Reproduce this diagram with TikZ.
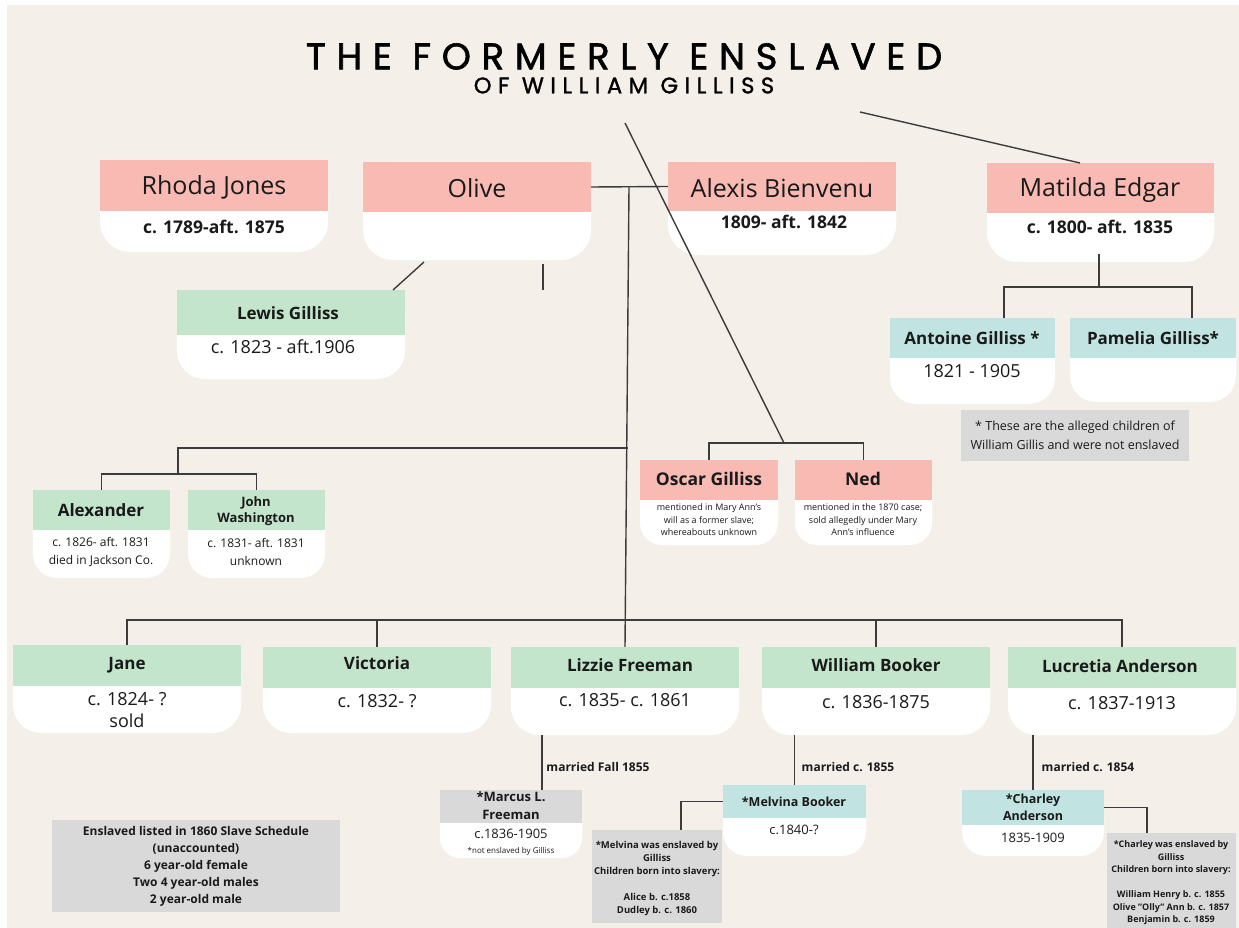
\documentclass[tikz,border=0pt]{standalone}
\usepackage{fontspec}
\setmainfont{Open Sans}
\newfontfamily\titlefont[LetterSpace=29, FakeBold=1.6]{Poppins}
\newfontfamily\subfont[LetterSpace=29, FakeBold=1.4]{Poppins}
\usetikzlibrary{fit}
\definecolor{bg}{HTML}{F4EFE9}
\definecolor{pinkh}{HTML}{F9BAB4}
\definecolor{greenh}{HTML}{C3E5CC}
\definecolor{tealh}{HTML}{C1E4E3}
\definecolor{grayn}{HTML}{D9D9D9}
\definecolor{ink}{HTML}{1A1A1A}
\definecolor{linec}{HTML}{3C3C3C}
\newcommand\pbox[8]{%
  \node[fit={(#2,#3) (#5,#6)}, inner sep=0pt, fill=white, rounded corners=#8] (#1b) {};
  \node[fit={(#2,#3) (#5,#4)}, inner sep=0pt, fill=#7] (#1) {};}
\newcommand\fs[2]{\fontsize{#1}{#2}\selectfont}
\begin{document}
\begin{tikzpicture}[x=1pt,y=-1pt,
  conn/.style={draw=linec, line width=1.4pt},
  note/.style={fill=grayn, inner sep=0pt},
  bigname/.style={text=ink, font=\fs{25}{30}},
  pname/.style={text=ink, font=\bfseries\fs{17}{20}},
  dates/.style={text=ink, font=\fs{18}{22}, align=center},
  bdates/.style={text=ink, font=\bfseries\fs{17.5}{22}},
  small/.style={text=ink, font=\fs{9}{12.5}, align=center},
  txt/.style={text=ink, align=center}]
\useasboundingbox (0,0) rectangle (1239,928);
\fill[white] (0,0) rectangle (1239,928);
\fill[bg] (7,5) rectangle (1239,928);

% title
\node[text=black, inner sep=0pt, anchor=north, align=center, font=\fs{22.5}{24}] (title) at (624,43)
  {{\titlefont\fs{37}{24}THE FORMERLY ENSLAVED}\\{\subfont\fs{22.5}{24}OF WILLIAM GILLISS}};

% boxes
\pbox{rhoda}{100}{160}{211}{328}{252}{pinkh}{30}
\pbox{olive}{363}{162}{212}{591}{260}{pinkh}{30}
\pbox{alexis}{668}{162}{211}{896}{255}{pinkh}{30}
\pbox{matilda}{987}{163}{213}{1214}{262}{pinkh}{30}
\pbox{lewis}{177}{290}{335}{405}{379}{greenh}{28}
\pbox{antoine}{890}{318}{358}{1055}{404}{tealh}{26}
\pbox{pamelia}{1070}{318}{358}{1236}{402}{tealh}{26}
\pbox{alexander}{33}{490}{530}{170}{578}{greenh}{24}
\pbox{john}{188}{490}{530}{325}{578}{greenh}{24}
\pbox{oscar}{640}{460}{500}{778}{545}{pinkh}{22}
\pbox{ned}{795}{460}{500}{932}{545}{pinkh}{22}
\pbox{jane}{13}{645}{686}{241}{733}{greenh}{28}
\pbox{victoria}{263}{647}{688}{491}{733}{greenh}{28}
\pbox{lizzie}{511}{647}{688}{739}{735}{greenh}{28}
\pbox{william}{762}{647}{688}{990}{735}{greenh}{28}
\pbox{lucretia}{1008}{647}{688}{1236}{735}{greenh}{28}
\pbox{marcus}{440}{790}{823}{582}{858}{grayn}{20}
\pbox{melvina}{723}{785}{818}{866}{856}{tealh}{24}
\pbox{charley}{962}{790}{825}{1104}{856}{tealh}{24}

% notes
\node[note, fit={(961,410) (1189,461)}] (legend) {};
\node[note, fit={(592,830) (722,923)}] (melnote) {};
\node[note, fit={(1107,833) (1236,928)}] (charnote) {};
\node[note, fit={(52,820) (340,912)}] (enslaved) {};

% connectors
\coordinate (hub) at (629,187);
\coordinate (h2) at (628,448);
\coordinate (sib) at (178,474);
\coordinate (barL) at (127,620);
\coordinate (on) at (784,443);
\coordinate (d0) at (625,123);
\coordinate (m0) at (860,112);
\coordinate (m1) at (1080,163);
\coordinate (mt) at (1099,254);
\coordinate (mc) at (1099,287);
\coordinate (a1) at (1004,318);
\coordinate (p1) at (1192,318);
\coordinate (l1) at (424,262);
\coordinate (l2) at (393,290);
\coordinate (t1) at (543,264);
\coordinate (t2) at (543,290);
\coordinate (z1) at (542,735);
\coordinate (z2) at (542,790);
\coordinate (mn) at (681,830);
\coordinate (cn) at (1147,833);

\draw[conn] (olive.east) -- (alexis.west);
\draw[conn] (hub) -- (lizzie.north);
\draw[conn] (h2) -| (sib);
\draw[conn] (alexander.north) |- (sib) -| (john.north);
\draw[conn] (jane.north) |- (lucretia.north |- barL) -- (lucretia.north);
\draw[conn] (victoria.north) -- (victoria.north |- barL);
\draw[conn] (william.north) -- (william.north |- barL);
\draw[conn] (oscar.north) |- (on) -| (ned.north);
\draw[conn] (d0) -- (on);
\draw[conn] (m0) -- (m1);
\draw[conn] (mt) -- (mc);
\draw[conn] (a1) |- (mc) -| (p1);
\draw[conn] (l1) -- (l2);
\draw[conn] (t1) -- (t2);
\draw[conn] (z1) -- (z2);
\draw[conn] (williamb.south -| melvina.north) -- (melvina.north);
\draw[conn] (lucretiab.south -| charley.north) -- (charley.north);
\draw[conn] (melvina.west) -| (mn);
\draw[conn] (charley.east) -| (cn);

% header texts
\node[bigname] (rhodat) at (214,187) {Rhoda Jones};
\node[bigname] (olivet) at (477,188) {Olive};
\node[bigname] (alexist) at (782,188) {Alexis Bienvenu};
\node[bigname] (matildat) at (1100,190) {Matilda Edgar};
\node[bdates] (rhodad) at (214,227) {c. 1789-aft. 1875};
\node[bdates] (alexisd) at (784,222) {1809- aft. 1842};
\node[bdates] (matildad) at (1100,227) {c. 1800- aft. 1835};

\node[pname] (lewist) at (288,313) {Lewis Gilliss};
\node[dates] (lewisd) at (283,347) {c. 1823 - aft.1906};
\node[pname] (antoinet) at (972,338) {Antoine Gilliss *};
\node[dates] (antoined) at (972,371) {1821 - 1905};
\node[pname] (pameliat) at (1153,338) {Pamelia Gilliss*};
\node[txt, font=\fs{12.5}{19}] (legendt) at (legend.center) {* These are the alleged children of\\William Gillis and were not enslaved};

\node[pname] (alexandert) at (101,510) {Alexander};
\node[txt, font=\fs{12}{18}] (alexanderd) at (101,552) {c. 1826- aft. 1831\\died in Jackson Co.};
\node[txt, font=\bfseries\fs{13}{16}] (johnt) at (256,511) {John\\Washington};
\node[txt, font=\fs{12}{18}] (johnd) at (256,552) {c. 1831- aft. 1831\\unknown};

\node[pname, font=\bfseries\fs{17.5}{20}] (oscart) at (709,479) {Oscar Gilliss};
\node[small] (oscard) at (709,520) {mentioned in Mary Ann's\\will as a former slave;\\whereabouts unknown};
\node[pname, font=\bfseries\fs{17.5}{20}] (nedt) at (863,479) {Ned};
\node[small] (nedd) at (863,520) {mentioned in the 1870 case;\\sold allegedly under Mary\\Ann's influence};

\node[pname] (janet) at (127,665) {Jane};
\node[dates] (janed) at (127,710) {c. 1824- ?\\sold};
\node[pname] (victoriat) at (377,663) {Victoria};
\node[dates] (victoriad) at (377,701) {c. 1832- ?};
\node[pname] (lizziet) at (630,665) {Lizzie Freeman};
\node[dates] (lizzied) at (625,700) {c. 1835- c. 1861};
\node[pname] (williamt) at (876,665) {William Booker};
\node[dates] (williamd) at (876,702) {c. 1836-1875};
\node[pname] (lucretiat) at (1120,666) {Lucretia Anderson};
\node[dates] (lucretiad) at (1122,703) {c. 1837-1913};

\node[txt, font=\bfseries\fs{12}{14}] (mar1) at (598,767) {married Fall 1855};
\node[txt, font=\bfseries\fs{12}{14}] (mar2) at (848,767) {married c. 1855};
\node[txt, font=\bfseries\fs{12}{14}] (mar3) at (1088,767) {married c. 1854};

\node[txt, font=\bfseries\fs{13}{18}] (marcust) at (511,806) {*Marcus L.\\Freeman};
\node[txt, font=\fs{13}{15}] (marcusd) at (511,834) {c.1836-1905};
\node[txt, font=\fs{8}{10}] (marcusn) at (511,851) {*not enslaved by Gilliss};
\node[txt, font=\bfseries\fs{12.5}{15}] (melvinat) at (794,802) {*Melvina Booker};
\node[txt, font=\fs{13}{15}] (melvinad) at (794,830) {c.1840-?};
\node[txt, font=\bfseries\fs{12.5}{17}] (charleyt) at (1033,807) {*Charley\\Anderson};
\node[txt, font=\fs{13}{15}] (charleyd) at (1033,838) {1835-1909};

\node[txt, font=\bfseries\fs{9.5}{13}] (melnotet) at (657,879) {*Melvina was enslaved by\\Gilliss\\Children born into slavery:\\[13pt]Alice b. c.1858\\Dudley b. c. 1860};
\node[txt, font=\bfseries\fs{9}{12.5}] (charnotet) at (1171,883) {*Charley was enslaved by\\Gilliss\\Children born into slavery:\\[12.5pt]William Henry b. c. 1855\\Olive "Olly" Ann b. c. 1857\\Benjamin b. c. 1859};
\node[txt, font=\bfseries\fs{12}{17}] (enslavedt) at (enslaved.center) {Enslaved listed in 1860 Slave Schedule\\(unaccounted)\\6 year-old female\\Two 4 year-old males\\2 year-old male};
\end{tikzpicture}
\end{document}
